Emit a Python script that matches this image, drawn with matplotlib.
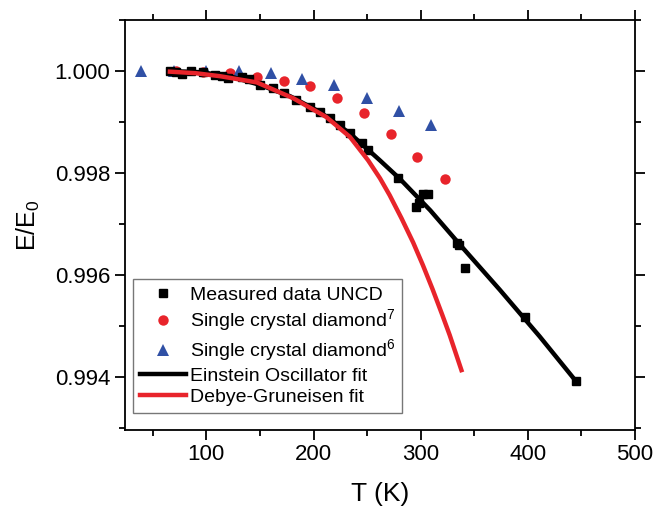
import matplotlib.pyplot as plt
from matplotlib.ticker import MultipleLocator, FormatStrFormatter

plt.rcParams['font.family'] = ['Liberation Sans', 'DejaVu Sans']
plt.rcParams['mathtext.fontset'] = 'custom'
plt.rcParams['mathtext.rm'] = 'Liberation Sans'
plt.rcParams['mathtext.it'] = 'Liberation Sans'

# =========================
# DATA
# =========================
# Measured data UNCD
t_uncd = [66, 72, 77, 86, 97, 108, 115, 120, 133, 140, 150, 162, 172, 184, 197,
          206, 215, 225, 234, 245, 251, 279, 296, 298, 302, 307, 334, 336, 341,
          397, 445]
e_uncd = [1.00000, 0.99998, 0.99995, 1.00000, 0.99998, 0.99992, 0.99990, 0.99986,
          0.99988, 0.99984, 0.99972, 0.99967, 0.99958, 0.99943, 0.99930,
          0.99920, 0.99908, 0.99895, 0.99878, 0.99859, 0.99845, 0.99790, 0.99733,
          0.99741, 0.99759, 0.99759, 0.99663, 0.99660, 0.99614,
          0.99518, 0.99392]

# Single crystal diamond (ref 7)
t_sc7 = [72, 97, 122, 147, 172, 197, 222, 247, 272, 297, 323]
e_sc7 = [1.00000, 0.99999, 0.99996, 0.99989, 0.99981, 0.99970, 0.99948,
         0.99917, 0.99876, 0.99832, 0.99789]

# Single crystal diamond (ref 6)
t_sc6 = [39, 70, 100, 130, 160, 189, 219, 250, 280, 310]
e_sc6 = [1.00000, 1.00000, 1.00000, 1.00000, 0.99997, 0.99985, 0.99972,
         0.99948, 0.99921, 0.99894]

# Einstein oscillator fit
t_ein = [66, 94, 122, 150, 178, 206, 234, 262, 281, 309, 337, 374, 411, 445]
e_ein = [1.00000, 0.99998, 0.99990, 0.99973, 0.99951, 0.99920, 0.99878,
         0.99825, 0.99788, 0.99727, 0.99659, 0.99571, 0.99480, 0.99392]

# Debye-Gruneisen fit
t_dg = [66, 90, 113, 147, 181, 212, 234, 251, 262, 271, 282, 293, 302,
        311, 320, 327, 338]
e_dg = [0.99999, 0.99996, 0.99990, 0.99978, 0.99947, 0.99910, 0.99871,
        0.99825, 0.99790, 0.99757, 0.99712, 0.99664, 0.99620, 0.99573,
        0.99523, 0.99483, 0.99414]

RED = "#e8242b"
BLUE = "#3050a5"

# =========================
# PLOT
# =========================
fig = plt.figure(figsize=(6.54, 5.16), dpi=100)
ax = fig.add_axes([0.191, 0.167, 0.780, 0.794])

ax.plot(t_uncd, e_uncd, "s", color="black", markersize=6, zorder=3,
        label="Measured data UNCD")
ax.plot(t_sc7, e_sc7, "o", color=RED, markersize=7.5, markeredgewidth=0,
        zorder=2, label="Single crystal diamond$^7$")
ax.plot(t_sc6, e_sc6, "^", color=BLUE, markersize=9, markeredgewidth=0,
        zorder=2, label="Single crystal diamond$^6$")
ax.plot(t_ein, e_ein, "-", color="black", linewidth=3.2, zorder=4,
        label="Einstein Oscillator fit")
ax.plot(t_dg, e_dg, "-", color=RED, linewidth=3.2, zorder=5,
        label="Debye-Gruneisen fit")

ax.set_xlim(24, 500)
ax.set_ylim(0.99297, 1.001)

ax.xaxis.set_major_locator(MultipleLocator(100))
ax.xaxis.set_minor_locator(MultipleLocator(50))
ax.yaxis.set_major_locator(MultipleLocator(0.002))
ax.yaxis.set_minor_locator(MultipleLocator(0.001))
ax.yaxis.set_major_formatter(FormatStrFormatter("%.3f"))

ax.tick_params(which="both", direction="out", top=True, right=True,
               width=1.3, labelsize=16)
ax.tick_params(which="major", length=7)
ax.tick_params(which="minor", length=4)
for s in ax.spines.values():
    s.set_linewidth(1.3)

ax.set_xlabel("T (K)", fontsize=19, labelpad=12)
ax.set_ylabel("E/E$_0$", fontsize=18, labelpad=9)

leg = ax.legend(loc="lower left", bbox_to_anchor=(0.0157, 0.041),
                borderaxespad=0, fontsize=14, frameon=True, fancybox=False,
                edgecolor="#555555", handlelength=2.4, handletextpad=0.2,
                labelspacing=0.2, borderpad=0.35)
leg.get_frame().set_linewidth(1.0)

fig.savefig("out.png", dpi=100)
